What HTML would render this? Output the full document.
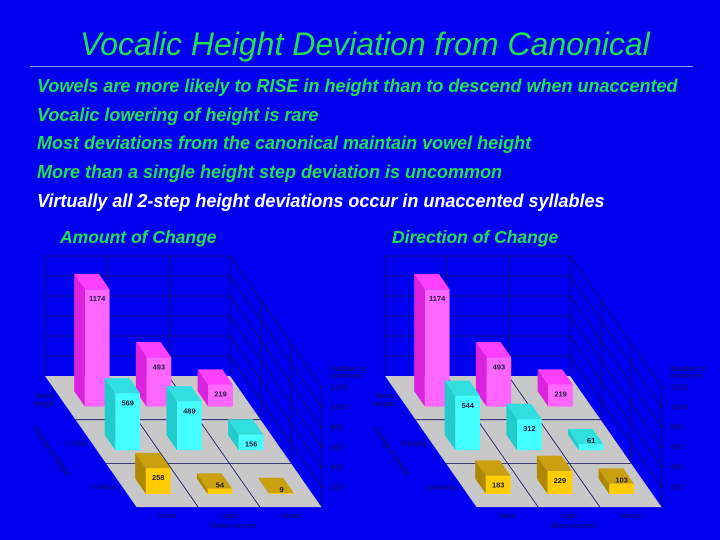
<!DOCTYPE html>
<html><head><meta charset="utf-8"><style>
body{margin:0;background:#0000f0;}
#slide{position:relative;width:720px;height:540px;overflow:hidden;background:#0000f0;font-family:"Liberation Sans",sans-serif;}
.t{position:absolute;white-space:nowrap;font-style:italic;color:#22e050;}
.b{font-weight:bold;font-size:18px;left:37px;}
</style></head><body>
<div id="slide">
<div class="t" style="left:80px;top:26px;font-size:32px;">Vocalic Height Deviation from Canonical</div>
<div style="position:absolute;left:30px;top:66px;width:663px;height:1px;background:#7aa0d8;"></div>
<div class="t b" style="top:76px;">Vowels are more likely to RISE in height than to descend when unaccented</div>
<div class="t b" style="top:105px;">Vocalic lowering of height is rare</div>
<div class="t b" style="top:133px;">Most deviations from the canonical maintain vowel height</div>
<div class="t b" style="top:162px;">More than a single height step deviation is uncommon</div>
<div class="t b" style="top:191px;color:#fff;">Virtually all 2-step height deviations occur in unaccented syllables</div>
<div class="t b" style="left:60px;top:227px;font-size:17.5px;">Amount of Change</div>
<div class="t b" style="left:392px;top:227px;font-size:17.5px;">Direction of Change</div>
<svg id="chart" width="720" height="540" style="position:absolute;left:0;top:0;"></svg>
</div>
<script>
const columns = ["None","Light","Heavy"];
const leftRows = ["Same Height","1-Step","2-Steps"];
const leftValues = [[1174,493,219],[569,489,156],[258,54,9]];
const rightRows = ["Same Height","Raising","Lowering"];
const rightValues = [[1174,493,219],[544,312,61],[183,229,103]];
const ticks = [200,400,600,800,1000,1200];
const NS="http://www.w3.org/2000/svg";
const svg=document.getElementById('chart');
const front=["#ff66ff","#44ffff","#ffcc00"], side=["#dd22dd","#22cccc","#b08800"], top_=["#ff40ff","#30e0e0","#c8a010"];
function mk(tag,attrs,parent,name){const e=document.createElementNS(NS,tag);for(const k in attrs)e.setAttribute(k,attrs[k]);


(parent||svg).appendChild(e);return e;}
function txt(x,y,s,name,opt){const e=mk('text',Object.assign({x:x,y:y,'font-size':7.5,fill:'#101050','font-family':'Liberation Sans, sans-serif'},opt||{}),null,name);e.textContent=s;return e;}
function poly(pts,fill,name,stroke){return mk('polygon',{points:pts.map(p=>p.join(',')).join(' '),fill:fill,stroke:stroke||'none','stroke-width':0.6},null,name);}
function drawChart(ox,rows,values,pref){
  const P=(u,r,h)=>[ox+u*61.7+r*30.5, 376+r*43.7-h*0.1];
  function lineA(a,b){return {x1:a[0],y1:a[1],x2:b[0],y2:b[1],stroke:'#101060','stroke-width':0.8};}
  for(const t of [200,400,600,800,1000]) mk('line',lineA(P(0,0,t),P(3,0,t)),null,pref+'-wall-grid');
  mk('line',lineA(P(0,0,0),P(0,0,1200)),null,pref+'-wall-edge');
  mk('line',lineA(P(0,0,1200),P(3,0,1200)),null,pref+'-wall-top');
  for(const c of [1,2,3]) mk('line',lineA(P(c,0,0),P(c,0,1200)),null,pref+'-wall-vline');
  mk('line',lineA(P(3,0,1200),P(3,3,1200)),null,pref+'-side-top');
  for(const t of [200,400,600,800,1000]) mk('line',lineA(P(3,0,t),P(3,3,t)),null,pref+'-side-grid');
  for(const r of [1,2]) mk('line',lineA(P(3,r,0),P(3,r,1200)),null,pref+'-side-vline');
  mk('line',lineA(P(3,3,0),P(3,3,1200)),null,pref+'-value-axis');
  ticks.forEach(t=>{const p=P(3,3,t);mk('line',lineA([p[0]-2,p[1]],[p[0]+3,p[1]]),null,pref+'-tick');txt(p[0]+9,p[1]+2.5,String(t),pref+'-tick-label');});
  const tp=P(3,3,1200);txt(tp[0]+9,tp[1]-16,'Number of',pref+'-axis-title');txt(tp[0]+9,tp[1]-9,'Instances',pref+'-axis-title');
  poly([P(0,0,0),P(3,0,0),P(3,3,0),P(0,3,0)],'#c8c8c8',pref+'-floor');
  for(const r of [1,2]) mk('line',lineA(P(0,r,0),P(3,r,0)),null,pref+'-floor-row-line');
  for(const c of [1,2]) mk('line',lineA(P(c,0,0),P(c,3,0)),null,pref+'-floor-col-line');
  for(let r=0;r<3;r++){for(let c=0;c<3;c++){
    const v=values[r][c],u0=c+0.3,u1=c+0.7,rf=r+0.7,rb=r+0.35,nm=pref+'-bar-'+r+'-'+c;
    poly([P(u0,rb,0),P(u0,rf,0),P(u0,rf,v),P(u0,rb,v)],side[r],nm+'-side');
    poly([P(u0,rb,v),P(u1,rb,v),P(u1,rf,v),P(u0,rf,v)],top_[r],nm+'-top');
    poly([P(u0,rf,0),P(u1,rf,0),P(u1,rf,v),P(u0,rf,v)],front[r],nm);
    const lp=P((u0+u1)/2,rf,v);const ly=v*0.1>14?lp[1]+12:lp[1]-1;
    txt(lp[0],ly,String(v),nm+'-label',{'text-anchor':'middle','font-weight':'bold','font-size':7.5,fill:'#202040'});
  }}
  rows.forEach((s,r)=>{const p=P(0,r+0.55,0);
    if(r===0){const parts=s.split(' ');txt(p[0]-7,p[1]-2,parts[0],pref+'-row-label',{'text-anchor':'end'});txt(p[0]-7,p[1]+6,parts[1],pref+'-row-label',{'text-anchor':'end'});}
    else txt(p[0]-6,p[1]+2,s,pref+'-row-label',{'text-anchor':'end'});});
  const a=P(0,1.2,0);const ax=a[0]-49,ay=a[1];
  txt(ax,ay,'Change in Height',pref+'-row-axis-title',{transform:'rotate(55 '+ax+' '+ay+')'});
  columns.forEach((s,c)=>{const p=P(c+0.5,3,0);txt(p[0],p[1]+11,s,pref+'-col-label',{'text-anchor':'middle'});});
  const sp=P(1.5,3,0);txt(sp[0]+4,sp[1]+21,'Stress Accent',pref+'-col-axis-title',{'text-anchor':'middle'});
}
drawChart(45,leftRows,leftValues,'left');
drawChart(385,rightRows,rightValues,'right');
</script>
</body></html>
